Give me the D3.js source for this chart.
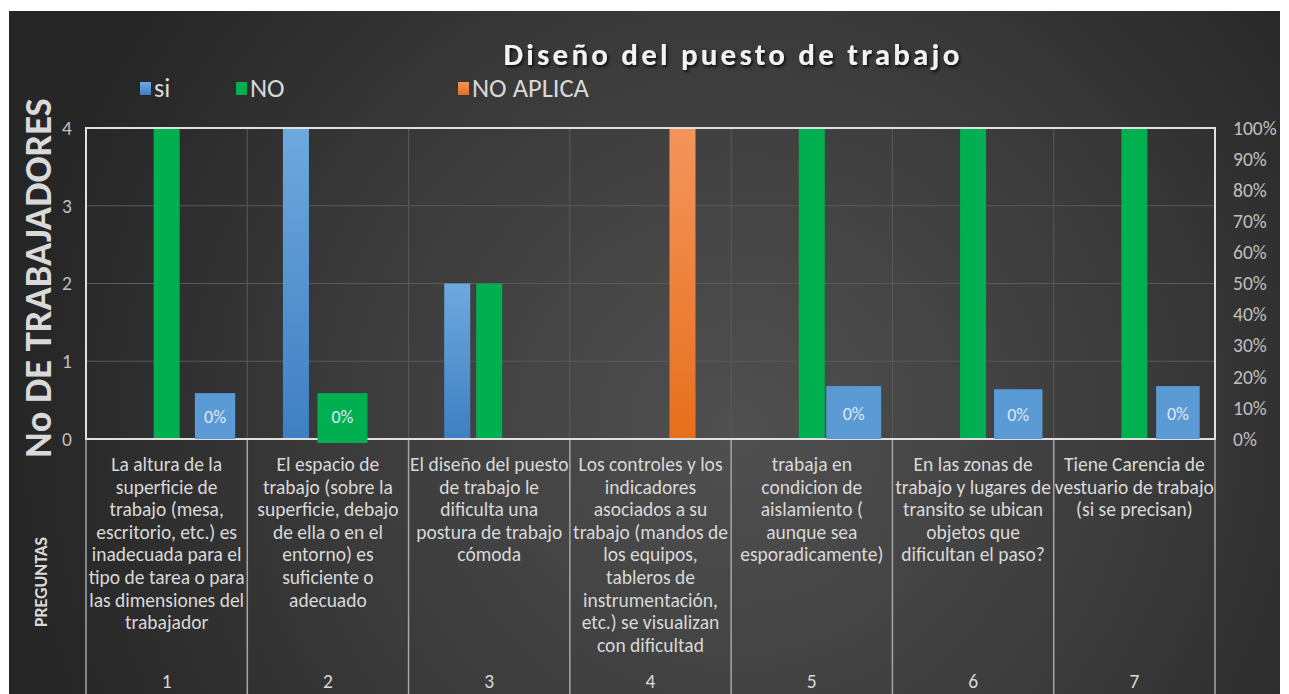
<!DOCTYPE html>
<html>
<head>
<meta charset="utf-8">
<script src="https://cdn.jsdelivr.net/npm/d3@7"></script>
<style>
  body { margin: 0; background: #fff; }
  svg text { font-family: Carlito, "Liberation Sans Narrow", "Open Sans", sans-serif; }
</style>
</head>
<body>
<div id="chart"></div>
<script>
// question numbers + wrapped question text
const categories = ["1", "2", "3", "4", "5", "6", "7"];
const questions = [
  ["La altura de la", "superficie de", "trabajo (mesa,", "escritorio, etc.) es", "inadecuada para el", "tipo de tarea o para", "las dimensiones del", "trabajador"],
  ["El espacio de", "trabajo (sobre la", "superficie, debajo", "de ella o en el", "entorno) es", "suficiente o", "adecuado"],
  ["El diseño del puesto", "de trabajo le", "dificulta una", "postura de trabajo", "cómoda"],
  ["Los controles y los", "indicadores", "asociados a su", "trabajo (mandos de", "los equipos,", "tableros de", "instrumentación,", "etc.) se visualizan", "con dificultad"],
  ["trabaja en", "condicion de", "aislamiento (", "aunque sea", "esporadicamente)"],
  ["En las zonas de", "trabajo y lugares de", "transito se ubican", "objetos  que", "dificultan el paso?"],
  ["Tiene Carencia de", "vestuario de trabajo", "(si se precisan)"]
];

const seriesNames = ["si", "NO", "NO APLICA"];
const si = [0, 4, 2, 0, 0, 0, 0];
const no = [4, 0, 2, 0, 4, 4, 4];
const noAplica = [0, 0, 0, 4, 0, 0, 0];

// percentage data labels ("0%") drawn as filled boxes in the original
const pctCats = ["1", "2", "5", "6", "7"];
const pctSeries = ["si", "NO", "si", "si", "si"];
const pctText = ["0%", "0%", "0%", "0%", "0%"];
const pctTop = [0.59, 0.59, 0.68, 0.64, 0.68];     // top of box, in trabajadores units
const pctShift = [0.30, 0.09, 0.26, 0.28, 0.27];   // box centre offset, fraction of band
const pctWidth = [0.25, 0.31, 0.34, 0.30, 0.27];   // box width, fraction of band

const leftTicks = [0, 1, 2, 3, 4];
const rightTicks = [0, 0.1, 0.2, 0.3, 0.4, 0.5, 0.6, 0.7, 0.8, 0.9, 1];

const W = 1289, H = 694;
const margin = {top: 128, right: 74, bottom: 255, left: 86};
const width = W - margin.left - margin.right;
const height = H - margin.top - margin.bottom;
const FONT = 'Carlito, "Liberation Sans Narrow", "Open Sans", sans-serif';

const colors = {"si": "#5b9bd5", "NO": "#00b050", "NO APLICA": "#ed7d31"};

const svg = d3.select("#chart").append("svg")
  .attr("width", W).attr("height", H);

const defs = svg.append("defs");
const bg = defs.append("radialGradient").attr("id", "bg")
  .attr("gradientUnits", "userSpaceOnUse")
  .attr("cx", 740).attr("cy", 430).attr("r", 720);
bg.append("stop").attr("offset", "0%").attr("stop-color", "#505050");
bg.append("stop").attr("offset", "55%").attr("stop-color", "#3b3b3b");
bg.append("stop").attr("offset", "100%").attr("stop-color", "#262626");

const gradDefs = [["si", "#6ea9de", "#3e7fc3"], ["NO", "#00b050", "#00b050"], ["NO APLICA", "#f3955c", "#e86f1c"]];
gradDefs.forEach(([k, c1, c2], i) => {
  const lg = defs.append("linearGradient").attr("id", "g" + i)
    .attr("x1", 0).attr("y1", 0).attr("x2", 0).attr("y2", 1);
  lg.append("stop").attr("offset", "0%").attr("stop-color", c1);
  lg.append("stop").attr("offset", "100%").attr("stop-color", c2);
});
const fillOf = k => "url(#g" + seriesNames.indexOf(k) + ")";

const shadow = defs.append("filter").attr("id", "shadow")
  .attr("x", "-10%").attr("y", "-30%").attr("width", "120%").attr("height", "160%");
shadow.append("feDropShadow").attr("dx", 1.5).attr("dy", 2).attr("stdDeviation", 1.5)
  .attr("flood-color", "#000").attr("flood-opacity", 0.8);

// chart background
svg.append("rect").attr("x", 9).attr("y", 11).attr("width", 1271).attr("height", H - 11)
  .attr("fill", "url(#bg)");

const g = svg.append("g").attr("transform", `translate(${margin.left},${margin.top})`);

const x = d3.scaleBand().domain(categories).range([0, width]);
const xs = d3.scaleBand().domain(seriesNames)
  .range([x.bandwidth() / 2 - 51, x.bandwidth() / 2 + 51]).padding(0.1875);
const y = d3.scaleLinear().domain([0, 4]).range([height, 0]);
const yr = d3.scaleLinear().domain([0, 1]).range([height, 0]);

// gridlines
g.selectAll(".hgrid").data(leftTicks.slice(1, -1)).enter().append("line")
  .attr("x1", 0).attr("x2", width)
  .attr("y1", d => y(d)).attr("y2", d => y(d))
  .attr("stroke", "#5a5a5a").attr("stroke-width", 1);
g.selectAll(".vgrid").data(categories.slice(1)).enter().append("line")
  .attr("x1", d => x(d)).attr("x2", d => x(d))
  .attr("y1", 0).attr("y2", height)
  .attr("stroke", "#5a5a5a").attr("stroke-width", 1);

// bars
const data = [];
categories.forEach((c, i) => {
  data.push({cat: c, key: "si", value: si[i]});
  data.push({cat: c, key: "NO", value: no[i]});
  data.push({cat: c, key: "NO APLICA", value: noAplica[i]});
});
g.selectAll(".bar").data(data.filter(d => d.value > 0)).enter().append("rect")
  .attr("x", d => x(d.cat) + xs(d.key))
  .attr("y", d => y(d.value))
  .attr("width", xs.bandwidth())
  .attr("height", d => y(0) - y(d.value))
  .attr("fill", d => fillOf(d.key));

// table lines under plot
g.selectAll(".tline").data(categories.concat(["end"])).enter().append("line")
  .attr("x1", d => d === "end" ? width : x(d)).attr("x2", d => d === "end" ? width : x(d))
  .attr("y1", height).attr("y2", H - margin.top)
  .attr("stroke", "#a6a6a6").attr("stroke-width", 1.5);

// plot border
g.append("rect").attr("x", 0).attr("y", 0).attr("width", width).attr("height", height)
  .attr("fill", "none").attr("stroke", "#e0e0e0").attr("stroke-width", 2);

// percentage label boxes
pctCats.forEach((c, i) => {
  const cx = x(c) + x.bandwidth() / 2 + pctShift[i] * x.bandwidth();
  const bw = pctWidth[i] * x.bandwidth();
  g.append("rect").attr("x", cx - bw / 2).attr("y", y(pctTop[i]))
    .attr("width", bw).attr("height", y(0) - y(pctTop[i]) + (pctSeries[i] === "NO" ? 4 : 0))
    .attr("fill", colors[pctSeries[i]]);
  g.append("text").attr("x", cx).attr("y", (y(pctTop[i]) + y(0)) / 2 + 7)
    .attr("text-anchor", "middle").attr("font-size", 18).attr("fill", "#dfe8f3")
    .text(pctText[i]);
});

// axes
const yAxis = g.append("g").call(d3.axisLeft(y).tickValues(leftTicks).tickFormat(d3.format("d"))
  .tickSize(0).tickPadding(14));
yAxis.select(".domain").remove();
yAxis.selectAll("text").attr("font-size", 19.5).attr("fill", "#bfbfbf").style("font-family", FONT);

const rAxis = g.append("g").attr("transform", `translate(${width},0)`)
  .call(d3.axisRight(yr).tickValues(rightTicks).tickFormat(d3.format(".0%")).tickSize(0).tickPadding(18));
rAxis.select(".domain").remove();
rAxis.selectAll("text").attr("font-size", 19.5).attr("fill", "#bfbfbf").style("font-family", FONT);

// question text
questions.forEach((lines, i) => {
  const t = g.append("text").attr("text-anchor", "middle").attr("font-size", 19.5).attr("fill", "#d9d9d9");
  lines.forEach((ln, j) => {
    t.append("tspan").attr("x", x(categories[i]) + x.bandwidth() / 2)
      .attr("y", height + 32 + j * 22.6).text(ln);
  });
  g.append("text").attr("x", x(categories[i]) + x.bandwidth() / 2).attr("y", H - margin.top - 6)
    .attr("text-anchor", "middle").attr("font-size", 19.5).attr("fill", "#d9d9d9")
    .text(categories[i]);
});

// title
svg.append("text").attr("x", 733).attr("y", 65).attr("text-anchor", "middle")
  .attr("font-size", 31).attr("font-weight", "bold").attr("letter-spacing", 3.2)
  .attr("fill", "#f2f2f2").attr("filter", "url(#shadow)")
  .text("Diseño del puesto de trabajo");

// legend
const legendX = [140, 236, 458];
seriesNames.forEach((k, i) => {
  svg.append("rect").attr("x", legendX[i]).attr("y", 82).attr("width", 11).attr("height", 13)
    .attr("fill", fillOf(k));
  svg.append("text").attr("x", legendX[i] + 14).attr("y", 97)
    .attr("font-size", 26.5).attr("fill", "#d9d9d9").text(k);
});

// axis titles
svg.append("text").attr("transform", "translate(51,278) rotate(-90)")
  .attr("text-anchor", "middle").attr("font-size", 38.5).attr("font-weight", "bold")
  .attr("fill", "#d9d9d9").text("No DE TRABAJADORES");
svg.append("text").attr("transform", "translate(47,582) rotate(-90)")
  .attr("text-anchor", "middle").attr("font-size", 18).attr("font-weight", "bold")
  .attr("fill", "#d9d9d9").text("PREGUNTAS");
</script>
</body>
</html>
